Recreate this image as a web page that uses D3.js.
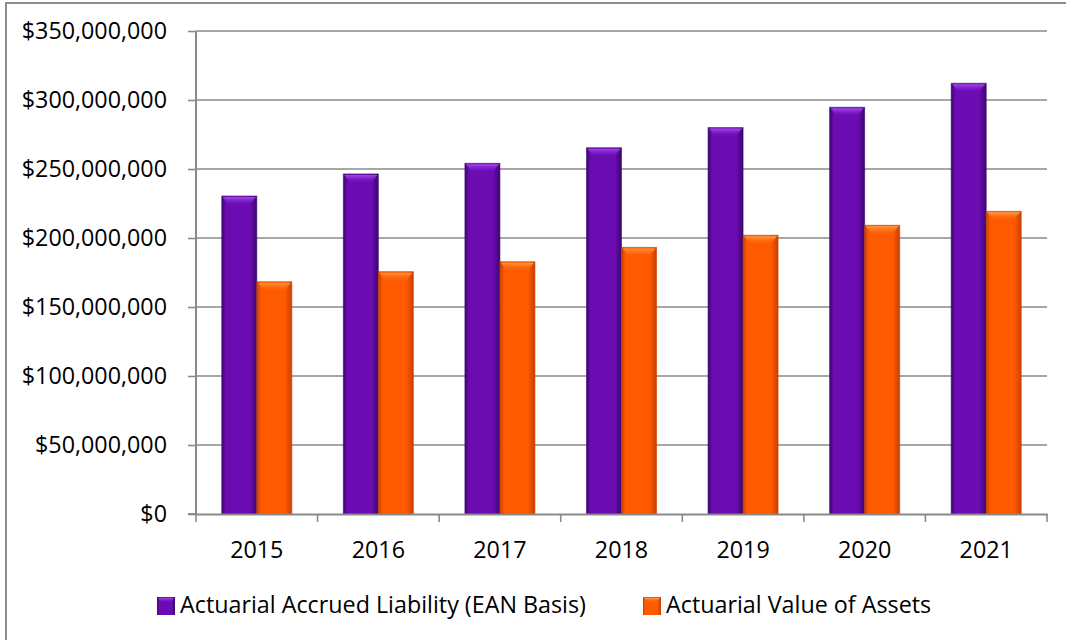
<!DOCTYPE html>
<html>
<head>
<meta charset="utf-8">
<script src="https://cdn.jsdelivr.net/npm/d3@7"></script>
<style>
  body { margin: 0; background: #fff; }
  svg { display: block; font-family: "Open Sans", sans-serif; }
</style>
</head>
<body>
<svg width="1066" height="640"></svg>
<script>
const years = ["2015", "2016", "2017", "2018", "2019", "2020", "2021"];
const liability = [230400000, 246400000, 254100000, 265400000, 280000000, 294700000, 312100000];
const assets = [168300000, 175600000, 182800000, 193200000, 202000000, 209200000, 219300000];
const seriesNames = ["Actuarial Accrued Liability (EAN Basis)", "Actuarial Value of Assets"];
const yTicks = [0, 50000000, 100000000, 150000000, 200000000, 250000000, 300000000, 350000000];

const colors = [
    { main: "#6a0cb2", dark: "#3c0670", light: "#a346f2" },
    { main: "#ff5a00", dark: "#c94000", light: "#ff9a45" }
];
const fontSize = 23.3;

const svg = d3.select("svg");
const margin = { left: 196, right: 19, top: 31, bottom: 126 };
const width = 1066 - margin.left - margin.right;
const height = 640 - margin.top - margin.bottom;

// outer frame
svg.append("rect")
    .attr("x", 6).attr("y", 3)
    .attr("width", 1080).attr("height", 660)
    .attr("fill", "none")
    .attr("stroke", "#8c8c8c")
    .attr("stroke-width", 2);

const defs = svg.append("defs");
colors.forEach((c, i) => {
    const g = defs.append("linearGradient").attr("id", "side" + i)
        .attr("x1", 0).attr("x2", 1).attr("y1", 0).attr("y2", 0);
    g.append("stop").attr("offset", "0%").attr("stop-color", c.dark);
    g.append("stop").attr("offset", "12%").attr("stop-color", c.main);
    g.append("stop").attr("offset", "80%").attr("stop-color", c.main);
    g.append("stop").attr("offset", "100%").attr("stop-color", c.dark);
    const t = defs.append("linearGradient").attr("id", "top" + i)
        .attr("x1", 0).attr("x2", 0).attr("y1", 0).attr("y2", 1);
    t.append("stop").attr("offset", "0%").attr("stop-color", c.light);
    t.append("stop").attr("offset", "100%").attr("stop-color", c.main).attr("stop-opacity", 0);
});

const group = svg.append("g")
    .attr("transform", `translate(${margin.left}, ${margin.top})`);

const x = d3.scaleBand()
    .domain(years)
    .range([0, width])
    .paddingInner(0.424)
    .paddingOuter(0.212);

const xInner = d3.scaleBand()
    .domain([0, 1])
    .range([0, x.bandwidth()]);

const y = d3.scaleLinear()
    .domain([0, 350000000])
    .range([height, 0]);

// gridlines
group.append("g")
    .selectAll("line")
    .data(yTicks.slice(1))
    .join("line")
    .attr("x1", 0).attr("x2", width)
    .attr("y1", d => y(d)).attr("y2", d => y(d))
    .attr("stroke", "#8a8a8a")
    .attr("stroke-width", 1.6);

// bars
const data = years.map((yr, i) => ({ year: yr, values: [liability[i], assets[i]] }));
const cat = group.selectAll(".cat")
    .data(data)
    .join("g")
    .attr("class", "cat")
    .attr("transform", d => `translate(${x(d.year)},0)`);

const bars = cat.selectAll(".bar")
    .data(d => d.values.map((v, s) => ({ v, s })))
    .join("g")
    .attr("class", "bar");

bars.append("rect")
    .attr("x", d => xInner(d.s))
    .attr("y", d => y(d.v))
    .attr("width", xInner.bandwidth())
    .attr("height", d => height - y(d.v))
    .attr("fill", d => `url(#side${d.s})`)
    .attr("stroke", d => colors[d.s].dark)
    .attr("stroke-opacity", 0.6)
    .attr("stroke-width", 1);

bars.append("path")
    .attr("d", d => {
        const x0 = xInner(d.s), w = xInner.bandwidth(), t = y(d.v);
        return `M${x0 + 1},${t + 1}L${x0 + w - 1},${t + 1}L${x0 + w - 8},${t + 10}L${x0 + 8},${t + 10}Z`;
    })
    .attr("fill", d => `url(#top${d.s})`);

// y axis
const yAxis = d3.axisLeft(y)
    .tickValues(yTicks)
    .tickSize(8)
    .tickPadding(21)
    .tickFormat(d3.format("$,.0f"));

const gy = group.append("g").call(yAxis);
gy.selectAll("path, line").attr("stroke", "#8a8a8a").attr("stroke-width", 1.6);
gy.select(".domain").attr("d", `M-8,${height}H0V0`).attr("stroke-width", 2);
gy.selectAll("text").attr("font-size", fontSize).attr("fill", "#000")
    .attr("font-family", "'Open Sans', sans-serif");

// x axis
const xAxis = d3.axisBottom(x).tickSize(0).tickPadding(27);
const gx = group.append("g")
    .attr("transform", `translate(0, ${height})`)
    .call(xAxis);
gx.select(".domain").attr("stroke", "#8a8a8a").attr("stroke-width", 2);
gx.selectAll("text").attr("font-size", fontSize).attr("fill", "#000")
    .attr("font-family", "'Open Sans', sans-serif");

const gap = (x.step() - x.bandwidth()) / 2;
const boundaries = years.map(yr => x(yr) - gap).concat([width]);
gx.selectAll(".sep")
    .data(boundaries)
    .join("line")
    .attr("class", "sep")
    .attr("x1", d => d).attr("x2", d => d)
    .attr("y1", 0).attr("y2", 8)
    .attr("stroke", "#8a8a8a")
    .attr("stroke-width", 1.6);

// legend
const legendX = [157, 643];
const legend = svg.append("g")
    .selectAll("g")
    .data(seriesNames)
    .join("g")
    .attr("transform", (d, i) => `translate(${legendX[i]}, 597)`);

legend.append("rect")
    .attr("width", 18).attr("height", 18)
    .attr("fill", (d, i) => `url(#side${i})`);
legend.append("path")
    .attr("d", "M1,1L17,1L13,6L5,6Z")
    .attr("fill", (d, i) => `url(#top${i})`);
legend.append("text")
    .attr("x", 23).attr("y", 16)
    .attr("font-size", fontSize)
    .attr("fill", "#000")
    .text(d => d);
</script>
</body>
</html>
